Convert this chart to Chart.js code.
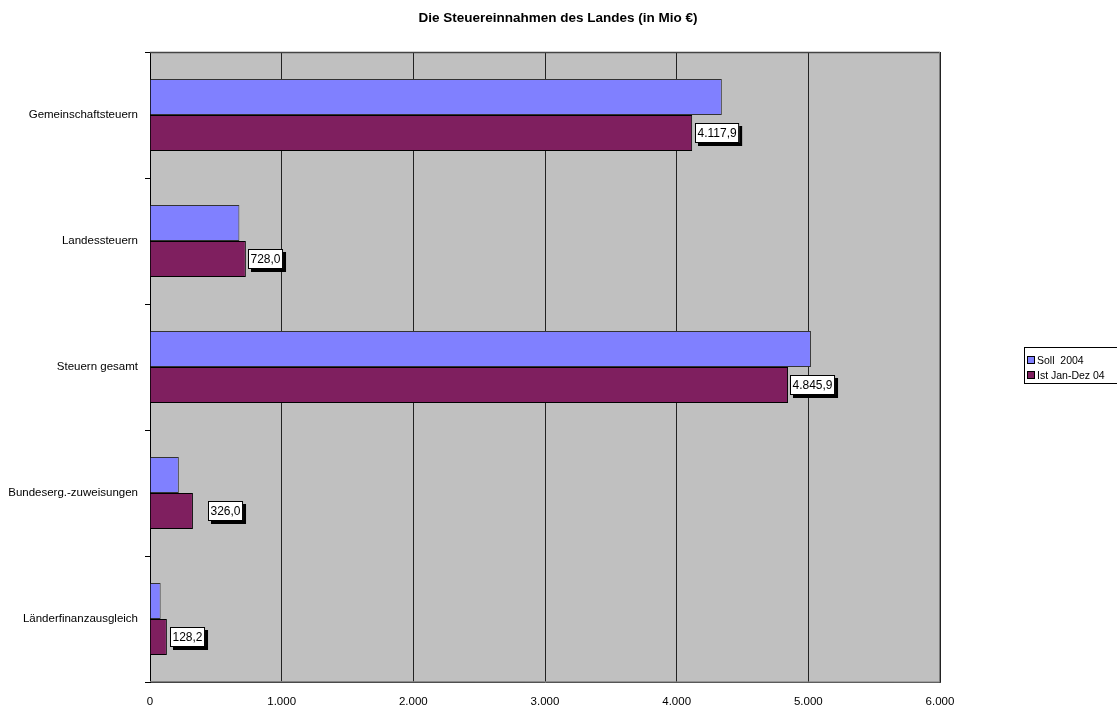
<!DOCTYPE html>
<html>
<head>
<meta charset="utf-8">
<title>Steuereinnahmen</title>
<script src="https://cdn.jsdelivr.net/npm/chart.js@4.4.1/dist/chart.umd.min.js"></script>
<style>
  body { margin: 0; background: #fff; }
  canvas { display: block; }
</style>
</head>
<body>
<canvas id="taxChart" width="1117" height="708"></canvas>
<script>
// Kategorien und Werte (Mio €)
const categories = [
  'Gemeinschaftsteuern', 'Landessteuern', 'Steuern gesamt',
  'Bundeserg.-zuweisungen', 'Länderfinanzausgleich'
];
const sollValues = [4343, 679, 5020, 219, 81];
const istValues = [4117.9, 728.0, 4845.9, 326.0, 128.2];
const seriesNames = ['Soll  2004', 'Ist Jan-Dez 04'];
const xTicks = [0, 1000, 2000, 3000, 4000, 5000, 6000];

const FONT = 'Liberation Sans, Arial, sans-serif';

// deutsche Zahlenformate
const fmtThousands = v => String(v).replace(/\B(?=(\d{3})+(?!\d))/g, '.');
const fmtValue = v => {
  const [i, d] = v.toFixed(1).split('.');
  return fmtThousands(i) + ',' + d;
};

// grauer Hintergrund + Rahmen der Zeichenfläche
const plotArea = {
  id: 'plotArea',
  beforeDraw(chart) {
    const { ctx, chartArea: a } = chart;
    ctx.save();
    ctx.fillStyle = '#c0c0c0';
    ctx.fillRect(a.left, a.top, a.right - a.left, a.bottom - a.top);
    ctx.restore();
  },
  afterDraw(chart) {
    const { ctx, chartArea: a } = chart;
    ctx.save();
    ctx.strokeStyle = '#444';
    ctx.lineWidth = 1.5;
    ctx.beginPath();
    ctx.moveTo(a.left, a.top + 0.5);
    ctx.lineTo(a.right, a.top + 0.5);
    ctx.stroke();
    ctx.strokeStyle = '#808080';
    ctx.lineWidth = 1;
    ctx.beginPath();
    ctx.moveTo(a.right - 0.5, a.top);
    ctx.lineTo(a.right - 0.5, a.bottom);
    ctx.lineTo(a.left, a.bottom - 0.5);
    ctx.stroke();
    ctx.restore();
  }
};

// Titel
const titlePlugin = {
  id: 'titlePlugin',
  afterDraw(chart) {
    const ctx = chart.ctx;
    ctx.save();
    ctx.font = 'bold 13.5px ' + FONT;
    ctx.fillStyle = '#000';
    ctx.textAlign = 'center';
    ctx.textBaseline = 'middle';
    ctx.fillText('Die Steuereinnahmen des Landes (in Mio €)', 558, 18);
    ctx.restore();
  }
};

// Wertbeschriftungen der Ist-Balken (weiße Box mit Schatten)
const valueLabels = {
  id: 'valueLabels',
  afterDatasetsDraw(chart, args, opts) {
    const ctx = chart.ctx;
    const meta = chart.getDatasetMeta(1);
    ctx.save();
    ctx.font = '12px ' + FONT;
    ctx.textBaseline = 'middle';
    ctx.textAlign = 'left';
    meta.data.forEach((bar, i) => {
      const text = fmtValue(istValues[i]);
      const w = ctx.measureText(text).width + 5;
      const h = 20;
      const x = Math.round(bar.x + (opts.gaps[i] || 3));
      const y = Math.round(bar.y - h / 2);
      ctx.fillStyle = '#000';
      ctx.fillRect(x + 3, y + 3, w, h);
      ctx.fillStyle = '#fff';
      ctx.fillRect(x, y, w, h);
      ctx.strokeStyle = '#000';
      ctx.lineWidth = 1;
      ctx.strokeRect(x + 0.5, y + 0.5, w - 1, h - 1);
      ctx.fillStyle = '#000';
      ctx.fillText(text, x + 2.5, y + h / 2 + 0.5);
    });
    ctx.restore();
  }
};

// Legende rechts
const sideLegend = {
  id: 'sideLegend',
  afterDraw(chart) {
    const ctx = chart.ctx;
    const x = 1024, y = 347, w = 100, h = 37;
    ctx.save();
    ctx.fillStyle = '#fff';
    ctx.fillRect(x, y, w, h);
    ctx.strokeStyle = '#000';
    ctx.lineWidth = 1;
    ctx.strokeRect(x + 0.5, y + 0.5, w - 1, h - 1);
    ctx.font = '10.5px ' + FONT;
    ctx.textBaseline = 'middle';
    chart.data.datasets.forEach((ds, i) => {
      const cy = y + 13 + i * 15;
      ctx.fillStyle = ds.backgroundColor;
      ctx.fillRect(x + 3, cy - 4, 8, 8);
      ctx.strokeStyle = '#000';
      ctx.strokeRect(x + 3.5, cy - 3.5, 7, 7);
      ctx.fillStyle = '#000';
      ctx.fillText(ds.label, x + 13, cy + 1);
    });
    ctx.restore();
  }
};

new Chart(document.getElementById('taxChart'), {
  type: 'bar',
  data: {
    labels: categories,
    datasets: [{
      label: seriesNames[0],
      data: sollValues,
      backgroundColor: '#8080ff',
      borderColor: '#333',
      borderWidth: 1,
      categoryPercentage: 0.57,
      barPercentage: 1.0
    }, {
      label: seriesNames[1],
      data: istValues,
      backgroundColor: '#7f1f5f',
      borderColor: '#000',
      borderWidth: 1,
      categoryPercentage: 0.57,
      barPercentage: 1.0
    }]
  },
  options: {
    indexAxis: 'y',
    responsive: false,
    animation: false,
    devicePixelRatio: 1,
    layout: { padding: { top: 52, right: 177, bottom: 0, left: 0 } },
    plugins: {
      legend: { display: false },
      tooltip: { enabled: false },
      valueLabels: { gaps: [3, 2, 2, 15, 3] }
    },
    scales: {
      x: {
        min: 0,
        max: 6000,
        afterBuildTicks: scale => { scale.ticks = xTicks.map(v => ({ value: v })); },
        afterFit: scale => { scale.height = 26; },
        grid: { color: '#222', drawTicks: false, lineWidth: 1 },
        border: { display: true, color: '#444' },
        ticks: {
          color: '#000',
          padding: 13,
          font: { family: FONT, size: 11.5 },
          callback: v => fmtThousands(v)
        }
      },
      y: {
        afterFit: scale => { scale.width = 150; },
        grid: { display: true, drawOnChartArea: false, offset: true, tickLength: 5, color: '#000' },
        border: { display: true, color: '#000' },
        ticks: {
          color: '#000',
          padding: 7,
          font: { family: FONT, size: 11.5 }
        }
      }
    }
  },
  plugins: [plotArea, valueLabels, titlePlugin, sideLegend]
});
</script>
</body>
</html>
